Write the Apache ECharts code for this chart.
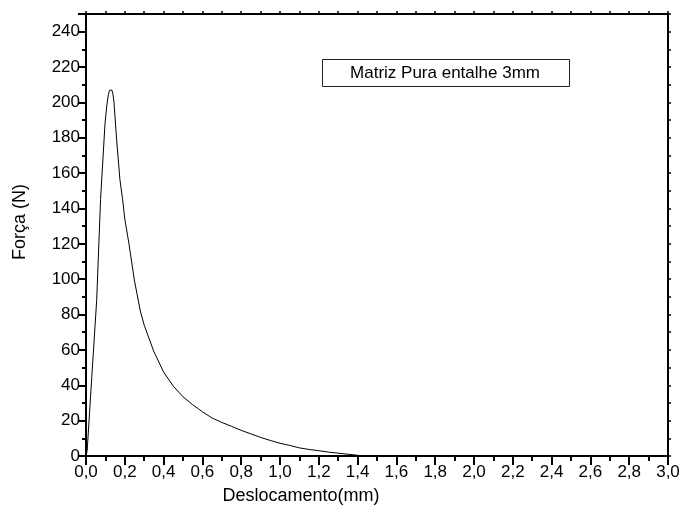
<!DOCTYPE html>
<html>
<head>
<meta charset="utf-8">
<script src="https://cdn.jsdelivr.net/npm/echarts@6/dist/echarts.min.js"></script>
<style>
  html, body { margin: 0; padding: 0; background: #ffffff; }
  #chart { width: 683px; height: 518px; }
</style>
</head>
<body>
<div id="chart"></div>
<script>
// Load-displacement curve, notched neat-matrix specimen
const deslocamento = [
  0, 0.006, 0.03, 0.055, 0.075, 0.098, 0.107, 0.115, 0.121, 0.127,
  0.133, 0.138, 0.144, 0.158, 0.175, 0.189, 0.2, 0.22, 0.25, 0.28,
  0.3, 0.35, 0.4, 0.45, 0.5, 0.55, 0.6, 0.65, 0.7, 0.75,
  0.8, 0.85, 0.9, 0.95, 1.0, 1.05, 1.1, 1.15, 1.2, 1.25,
  1.3, 1.35, 1.4, 1.43, 1.5
];
const forca = [
  0, 3, 45, 88, 145, 188, 198, 204.3, 206.8, 207.5,
  207, 205.3, 200.5, 178.8, 156.2, 144.9, 134, 121, 99, 82,
  74, 59, 47.5, 39.5, 33.5, 29, 25, 21.5, 19, 16.8,
  14.5, 12.5, 10.5, 8.8, 7.2, 6, 4.6, 3.7, 3.0, 2.2,
  1.6, 1.0, 0.4, 0, 0
];
const legendaTexto = 'Matriz Pura entalhe 3mm';
const tituloX = 'Deslocamento(mm)';
const tituloY = 'Força (N)';

const fonte = 'Liberation Sans, Arial, sans-serif';
const chart = echarts.init(document.getElementById('chart'), null, { renderer: 'canvas' });

const pontos = deslocamento.map((x, i) => [x, forca[i]]);

const plainLine = { show: true, onZero: false, lineStyle: { color: '#000', width: 2 } };

chart.setOption({
  animation: false,
  backgroundColor: '#ffffff',
  grid: { left: 86, right: 15, top: 14, bottom: 62, containLabel: false },
  xAxis: [
    {
      type: 'value', min: 0, max: 3, interval: 0.2, position: 'bottom',
      axisLine: plainLine,
      axisTick: { show: true, length: 9, lineStyle: { color: '#000', width: 2 } },
      minorTick: { show: true, splitNumber: 2, length: 5, lineStyle: { color: '#000', width: 2 } },
      splitLine: { show: false },
      axisLabel: {
        color: '#000', fontSize: 17, fontFamily: fonte, margin: 8,
        formatter: v => v.toFixed(1).replace('.', ',')
      }
    },
    {
      type: 'value', min: 0, max: 3, interval: 0.1, position: 'top',
      axisLine: plainLine,
      axisTick: { show: true, inside: false, length: 3, lineStyle: { color: '#000', width: 1.5 } },
      splitLine: { show: false },
      axisLabel: { show: false }
    }
  ],
  yAxis: [
    {
      type: 'value', min: 0, max: 250, interval: 20, position: 'left',
      axisLine: plainLine,
      axisTick: { show: true, length: 8, lineStyle: { color: '#000', width: 2 } },
      minorTick: { show: true, splitNumber: 2, length: 4, lineStyle: { color: '#000', width: 2 } },
      splitLine: { show: false },
      axisLabel: {
        color: '#000', fontSize: 17, fontFamily: fonte, margin: 6, showMaxLabel: false,
        formatter: v => (v > 240 ? '' : String(v))
      }
    },
    {
      type: 'value', min: 0, max: 250, interval: 10, position: 'right',
      axisLine: plainLine,
      axisTick: { show: true, inside: false, length: 3, lineStyle: { color: '#000', width: 1.5 } },
      splitLine: { show: false },
      axisLabel: { show: false }
    }
  ],
  graphic: [
    {
      type: 'rect', left: 322, top: 59,
      shape: { width: 247, height: 27 },
      style: { fill: '#fff', stroke: '#222', lineWidth: 1 }, z: 100
    },
    {
      type: 'text', x: 445, y: 73, z: 101,
      style: {
        text: legendaTexto, fill: '#000', font: '17px ' + fonte,
        align: 'center', verticalAlign: 'middle'
      }
    },
    {
      type: 'text', x: 301, y: 496, z: 101,
      style: {
        text: tituloX, fill: '#000', font: '18px ' + fonte,
        align: 'center', verticalAlign: 'middle'
      }
    },
    {
      type: 'text', x: 20, y: 222, rotation: Math.PI / 2, z: 101,
      style: {
        text: tituloY, fill: '#000', font: '18px ' + fonte,
        align: 'center', verticalAlign: 'middle'
      }
    }
  ],
  series: [
    {
      type: 'line', xAxisIndex: 0, yAxisIndex: 0,
      data: pontos, showSymbol: false, smooth: false,
      lineStyle: { color: '#000', width: 1 }, z: 3
    }
  ]
});
</script>
</body>
</html>
